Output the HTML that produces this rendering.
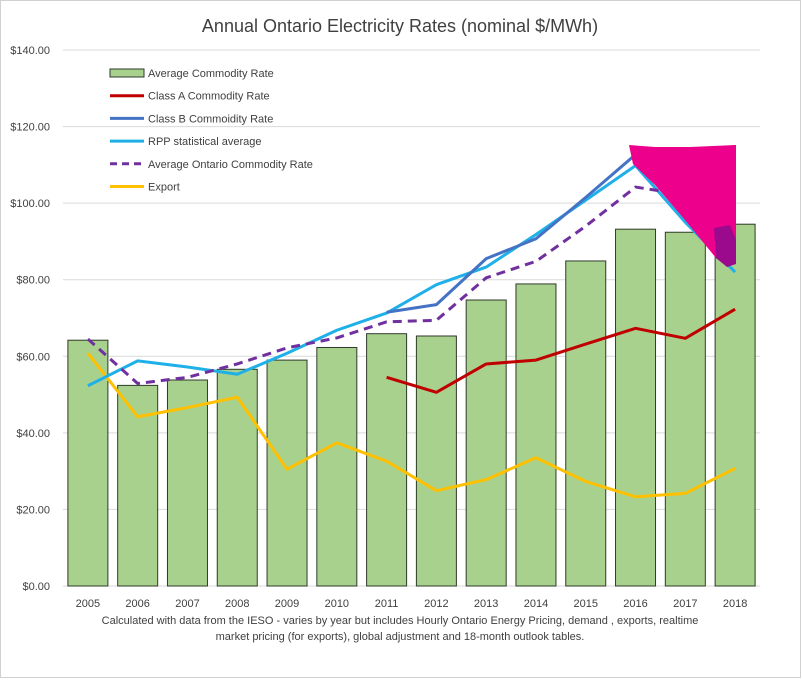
<!DOCTYPE html>
<html><head><meta charset="utf-8"><style>
body{margin:0;background:#fff;font-family:"Liberation Sans",sans-serif}
</style></head><body>
<svg id="c" width="802" height="679" font-family="Liberation Sans, sans-serif">
<rect x="0.5" y="0.5" width="800" height="677" fill="#fff" stroke="#d0d0d0"/>
<text x="400" y="32" text-anchor="middle" font-size="18" fill="#404040">Annual Ontario Electricity Rates (nominal $/MWh)</text>
<g id="grid"></g><g id="bars"></g><g id="lines"></g><g id="overlay"></g><g id="legend"></g>
<text x="400" y="624" text-anchor="middle" font-size="11" fill="#404040">Calculated with data from the IESO - varies by year but includes Hourly Ontario Energy Pricing, demand , exports, realtime</text>
<text x="400" y="640" text-anchor="middle" font-size="11" fill="#404040">market pricing (for exports), global adjustment and 18-month outlook tables.</text>
</svg>
<script>
const years=[2005,2006,2007,2008,2009,2010,2011,2012,2013,2014,2015,2016,2017,2018];
const avgCommodity=[64.2,52.4,53.8,56.6,59.0,62.3,65.9,65.3,74.7,78.9,84.9,93.2,92.4,94.5];
const classA=[null,null,null,null,null,null,54.5,50.6,58.0,59.0,63.2,67.3,64.7,72.3];
const classB=[null,null,null,null,null,null,71.5,73.5,85.5,90.7,101.5,112.7,113.5,114.8];
const rpp=[52.3,58.8,57.2,55.3,60.8,66.8,71.3,78.7,83.3,91.8,100.8,109.8,95.0,82.0];
const avgOntario=[64.5,52.9,54.5,58.0,62.2,64.8,69.0,69.4,80.5,84.8,94.0,104.2,102.2,103.0];
const exportRate=[60.8,44.2,46.6,49.3,30.5,37.4,32.6,24.9,27.8,33.5,27.3,23.3,24.2,30.7];
const yTicks=[0,20,40,60,80,100,120,140];
const NS="http://www.w3.org/2000/svg";
const x0=63,x1=760,step=(x1-x0)/years.length;
const X=i=>x0+step*(i+0.5);
const Y=v=>586-v*(536/140);
function mk(tag,attrs,parent){const e=document.createElementNS(NS,tag);for(const k in attrs)e.setAttribute(k,attrs[k]);parent.appendChild(e);return e;}
const g=document.getElementById('grid');
yTicks.forEach(t=>{
 const l=mk('line',{x1:x0,x2:x1,y1:Y(t),y2:Y(t),stroke:'#d9d9d9'},g);
 
 
 const tx=mk('text',{x:50,y:Y(t)+4,'text-anchor':'end','font-size':11,fill:'#404040'},g);
 tx.textContent='$'+t.toFixed(2);
 
 
});
years.forEach((yr,i)=>{
 const tx=mk('text',{x:X(i),y:607,'text-anchor':'middle','font-size':11,fill:'#404040'},g);
 tx.textContent=yr;
 
 
});
const b=document.getElementById('bars');
avgCommodity.forEach((v,i)=>{
 const r=mk('rect',{x:X(i)-20,y:Y(v),width:40,height:Y(0)-Y(v),fill:'#a9d18e',stroke:'#2f3a2a','stroke-width':1},b);
 
 
});
const L=document.getElementById('lines');
function line(data,color,name,dash){
 let d='';data.forEach((v,i)=>{if(v==null)return;d+=(d?'L':'M')+X(i)+' '+Y(v);});
 const p=mk('path',{d:d,fill:'none',stroke:color,'stroke-width':3,'stroke-linejoin':'round'},L);
 if(dash)p.setAttribute('stroke-dasharray','9 6');
 
 
}
line(exportRate,'#ffc000','line-export');
line(classA,'#c00000','line-class-a');
line(rpp,'#1fb0e8','line-rpp');
line(classB,'#4472c4','line-class-b');
line(avgOntario,'#7030a0','line-avg-ontario',true);
const o=document.getElementById('overlay');
const p1=mk('polygon',{points:'629,145 655,147 690,147 736,145 736,262 728,267 716,258 685,220 655,185 633,164',fill:'#ec008c'},o);


const p2=mk('polygon',{points:'714,228 730,225 736,240 736,264 727,267 716,258',fill:'#9b0a8c'},o);


const lg=document.getElementById('legend');
const items=[['Average Commodity Rate','bar'],['Class A Commodity Rate','#c00000'],['Class B Commoidity Rate','#4472c4'],['RPP statistical average','#1fb0e8'],['Average Ontario Commodity Rate','dash'],['Export','#ffc000']];
items.forEach((it,i)=>{
 const y=73+i*22.7;
 if(it[1]==='bar'){const r=mk('rect',{x:110,y:y-4,width:34,height:8,fill:'#a9d18e',stroke:'#2f3a2a'},lg);}
 else {const l=mk('line',{x1:110,x2:144,y1:y,y2:y,stroke:it[1]==='dash'?'#7030a0':it[1],'stroke-width':3},lg);if(it[1]==='dash')l.setAttribute('stroke-dasharray','7 5');}
 const t=mk('text',{x:148,y:y+4,'font-size':11,fill:'#404040'},lg);
 t.textContent=it[0];
 
 
});
</script>
</body></html>
